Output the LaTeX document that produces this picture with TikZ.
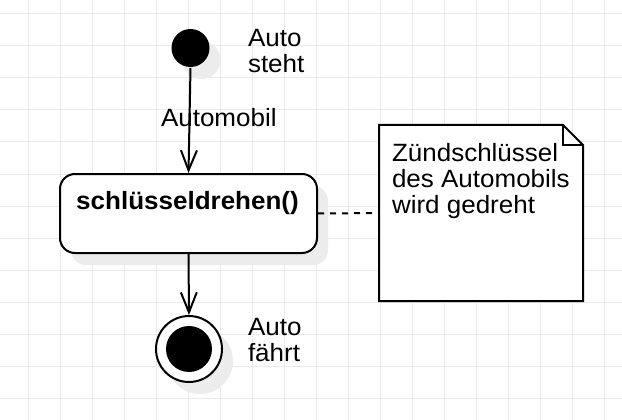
\documentclass[tikz,border=0pt]{standalone}
\usepackage{fontspec}
\setmainfont{Liberation Sans}[FakeStretch=1.04]
\usetikzlibrary{arrows.meta,shadows}
\definecolor{gridc}{HTML}{EAEAEA}
\definecolor{shadowc}{HTML}{ECECEC}
\newcommand{\fsz}{\fontsize{25}{26}\selectfont}
\tikzset{
  gridline/.style={gridc, line width=1pt},
  shade off/.style={drop shadow={shadow xshift=11pt, shadow yshift=-12pt, fill=shadowc, opacity=1}},
  txt/.style={inner sep=0pt, font=\fsz, align=left},
  flow/.style={line width=2pt, -{Straight Barb[length=20pt,width=16pt,line width=2pt]}},
}
\begin{document}
\begin{tikzpicture}[x=1pt,y=-1pt,line width=2pt]
\useasboundingbox (0,0) rectangle (622,420);
\fill[white] (0,0) rectangle (622,420);
\foreach \x in {28,60,...,604} \draw[gridline] (\x,0) -- (\x,420);
\foreach \y in {14,46,...,398} \draw[gridline] (0,\y) -- (622,\y);

% initial state
\node[circle, fill=black, minimum size=38pt, inner sep=0pt, shade off] (init) at (190.5,48) {};
\node[txt, anchor=north west] (steht) at (247,28.6) {Auto\\steht};

% action state
\node[draw, fill=white, rounded corners=15pt, minimum width=257pt, minimum height=79pt, inner sep=0pt, shade off] (state) at (188.5,213.5) {};
\node[inner sep=0pt, font=\fsz\bfseries, anchor=base] (statelbl) at (187.5,209) {schlüsseldrehen()};

% final state
\node[circle, draw, fill=white, minimum size=66pt, inner sep=0pt, shade off] (final) at (189,349) {};
\node[circle, fill=black, minimum size=46pt, inner sep=0pt] (finalin) at (final.center) {};
\node[txt, anchor=north west] (faehrt) at (247,317.5) {Auto\\fährt};

% note
\node[minimum width=202pt, minimum height=174pt, inner sep=0pt] (note) at (481,213) {};
\fill[white] (note.north west) -- ([xshift=-20pt]note.north east) -- ([yshift=-20pt]note.north east) -- (note.south east) -- (note.south west) -- cycle;
\draw[line join=miter] (note.north west) -- ([xshift=-20pt]note.north east) -- ([yshift=-20pt]note.north east) -- (note.south east) -- (note.south west) -- cycle;
\draw[line join=miter] ([xshift=-20pt]note.north east) -- ([xshift=-20pt,yshift=-20pt]note.north east) -- ([yshift=-20pt]note.north east);
\node[txt, anchor=north west] (notetxt) at (391,142) {Zündschlüssel\\des Automobils\\wird gedreht};

% connectors
\draw[flow] (init.south) -- (state.north);
\node[inner sep=0pt, font=\fsz, anchor=base west] (auto) at (160,126.7) {Automobil};
\draw[flow] (state.south) -- (final.north);
\draw[dash pattern=on 6pt off 6pt] (state.east) -- (note.west);
\end{tikzpicture}
\end{document}
